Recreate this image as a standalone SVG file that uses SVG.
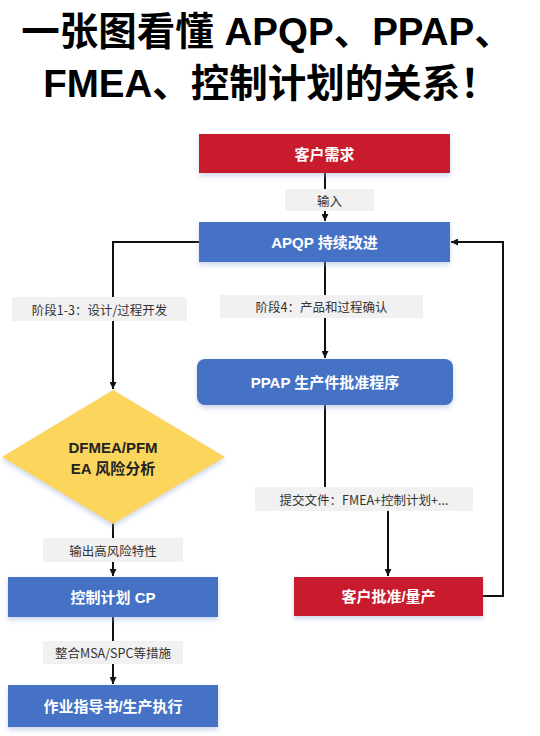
<svg xmlns="http://www.w3.org/2000/svg" width="540" height="736" viewBox="0 0 540 736">
<defs>
<marker id="arr" viewBox="0 0 10 10" refX="10" refY="5" markerWidth="7" markerHeight="7" markerUnits="userSpaceOnUse" orient="auto">
<path d="M0,0 L10,5 L0,10 z" fill="#111"/>
</marker>
<filter id="sh" x="-10%" y="-20%" width="120%" height="150%">
<feGaussianBlur in="SourceAlpha" stdDeviation="2.5"/>
<feOffset dy="3" result="b"/>
<feFlood flood-color="#8fa6d6" flood-opacity="0.45"/>
<feComposite in2="b" operator="in"/>
<feMerge><feMergeNode/><feMergeNode in="SourceGraphic"/></feMerge>
</filter>
<style>
.title{font-family:"Liberation Sans","Noto Sans CJK SC",sans-serif;font-weight:bold;font-size:38.5px;fill:#000;text-anchor:middle}
.red{fill:#c81e2e;filter:url(#sh)}
.blue{fill:#4472c4;filter:url(#sh)}
.bt{font-family:"Liberation Sans","Noto Sans CJK SC",sans-serif;font-weight:bold;font-size:15px;fill:#fff;text-anchor:middle;dominant-baseline:central}
.dt{font-family:"Liberation Sans","Noto Sans CJK SC",sans-serif;font-weight:bold;font-size:15px;fill:#222;text-anchor:middle}
.lb{fill:#f1f1f1}
.lt{font-family:"Noto Sans CJK SC",sans-serif;font-size:12.5px;fill:#333;text-anchor:middle;dominant-baseline:central}
.ln{fill:none;stroke:#111;stroke-width:2}
</style>
</defs>
<rect width="540" height="736" fill="#fff"/>
<text class="title" x="267" y="45">一张图看懂 APQP、PPAP、</text>
<text class="title" x="271" y="97">FMEA、控制计划的关系！</text>

<g id="connectors">
<line class="ln" x1="325" y1="173" x2="325" y2="221" marker-end="url(#arr)"/>
<polyline class="ln" points="199,242 113,242 113,389" marker-end="url(#arr)"/>
<line class="ln" x1="325" y1="262" x2="325" y2="358" marker-end="url(#arr)"/>
<line class="ln" x1="325" y1="405" x2="325" y2="490"/>
<line class="ln" x1="388" y1="508" x2="388" y2="576" marker-end="url(#arr)"/>
<polyline class="ln" points="483,596 503,596 503,242 451,242" marker-end="url(#arr)"/>
<line class="ln" x1="113" y1="523" x2="113" y2="576" marker-end="url(#arr)"/>
<line class="ln" x1="113" y1="617" x2="113" y2="684" marker-end="url(#arr)"/>
<g id="lbl-input"><rect class="lb" x="285" y="189" width="89" height="22"/><text class="lt" x="329.5" y="200">输入</text></g>
<g id="lbl-phase13"><rect class="lb" x="12" y="297" width="175" height="24"/><text class="lt" x="99.5" y="309">阶段1-3：设计/过程开发</text></g>
<g id="lbl-phase4"><rect class="lb" x="220" y="295" width="203" height="23"/><text class="lt" x="321.5" y="306.5">阶段4：产品和过程确认</text></g>
<g id="lbl-submit"><rect class="lb" x="255" y="487" width="218" height="24"/><text class="lt" x="364" y="499">提交文件：FMEA+控制计划+...</text></g>
<g id="lbl-output"><rect class="lb" x="43" y="538" width="140" height="24"/><text class="lt" x="113" y="550">输出高风险特性</text></g>
<g id="lbl-msa"><rect class="lb" x="43" y="641" width="140" height="23"/><text class="lt" x="113" y="652.5">整合MSA/SPC等措施</text></g>
</g>

<g id="customer-demand"><rect class="red" x="199" y="134" width="251" height="39"/><text class="bt" x="324.5" y="154">客户需求</text></g>
<g id="apqp"><rect class="blue" x="199" y="222" width="251" height="40"/><text class="bt" x="324.5" y="242">APQP 持续改进</text></g>
<g id="ppap"><rect class="blue" x="197" y="359" width="256" height="46" rx="8"/><text class="bt" x="325" y="382">PPAP 生产件批准程序</text></g>
<g id="fmea"><polygon points="113,390 225,457 113,524 2,457" fill="#fbd55b" filter="url(#sh)"/><text class="dt" x="113" y="453">DFMEA/PFM</text><text class="dt" x="113" y="474">EA 风险分析</text></g>
<g id="customer-approval"><rect class="red" x="294" y="577" width="189" height="39"/><text class="bt" x="388.5" y="596.5">客户批准/量产</text></g>
<g id="cp"><rect class="blue" x="8" y="577" width="210" height="40"/><text class="bt" x="113" y="597">控制计划 CP</text></g>
<g id="work"><rect class="blue" x="8" y="685" width="210" height="42"/><text class="bt" x="113" y="706">作业指导书/生产执行</text></g>
</svg>
